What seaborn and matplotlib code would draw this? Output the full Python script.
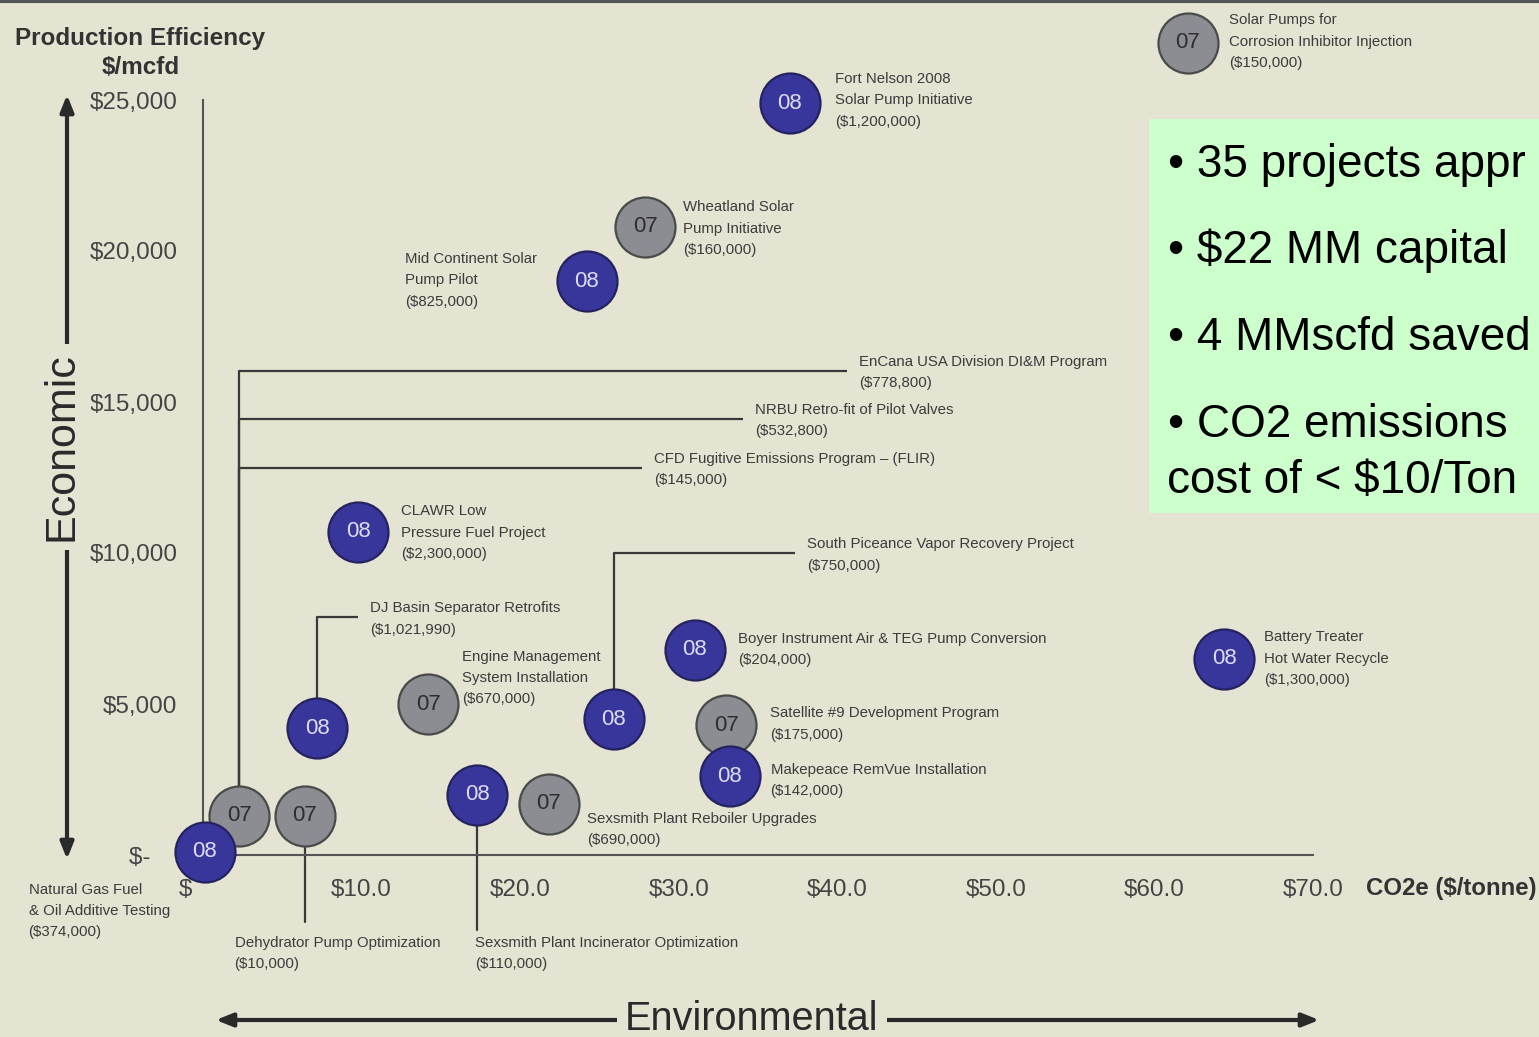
import numpy as np
import pandas as pd
import matplotlib
matplotlib.use("Agg")
import matplotlib.pyplot as plt
import seaborn as sns
from matplotlib.patches import Rectangle, FancyArrowPatch
from matplotlib.lines import Line2D

# ---------------- data ----------------
point_year = ["08", "07", "08", "07", "08", "08", "07", "08", "08",
              "07", "08", "07", "08", "08", "07", "07", "08"]
co2_cost = [37.0, 27.9, 24.2, 62.1, 9.8, 7.2, 14.2, 25.9, 31.0,
            33.0, 33.2, 21.8, 17.3, 64.4, 2.3, 6.4, 0.1]
prod_eff = [24900, 20800, 19000, 26900, 10700, 4200, 5000, 4500, 6800,
            4300, 2600, 1700, 2000, 6500, 1300, 1300, 100]

label_point = [0, 1, 2, 3, 4, 5, 6, 7, 8, 9, 10, 11, 12, 13, 14, 14, 14, 15, 16]
label_name = [
    "Fort Nelson 2008\nSolar Pump Initiative",
    "Wheatland Solar\nPump Initiative",
    "Mid Continent Solar\nPump Pilot",
    "Solar Pumps for\nCorrosion Inhibitor Injection",
    "CLAWR Low\nPressure Fuel Project",
    "DJ Basin Separator Retrofits",
    "Engine Management\nSystem Installation",
    "South Piceance Vapor Recovery Project",
    "Boyer Instrument Air & TEG Pump Conversion",
    "Satellite #9 Development Program",
    "Makepeace RemVue Installation",
    "Sexsmith Plant Reboiler Upgrades",
    "Sexsmith Plant Incinerator Optimization",
    "Battery Treater\nHot Water Recycle",
    "EnCana USA Division DI&M Program",
    "NRBU Retro-fit of Pilot Valves",
    "CFD Fugitive Emissions Program – (FLIR)",
    "Dehydrator Pump Optimization",
    "Natural Gas Fuel\n& Oil Additive Testing",
]
label_capital = [1200000, 160000, 825000, 150000, 2300000, 1021990, 670000,
                 750000, 204000, 175000, 142000, 690000, 110000, 1300000,
                 778800, 532800, 145000, 10000, 374000]

x_ticks = [0, 10, 20, 30, 40, 50, 60, 70]
x_tick_labels = ["$     ", "$10.0", "$20.0", "$30.0", "$40.0", "$50.0", "$60.0", "$70.0"]
y_ticks = [0, 5000, 10000, 15000, 20000, 25000]
y_tick_labels = ["$-    ", "$5,000", "$10,000", "$15,000", "$20,000", "$25,000"]

bullets = ["• 35 projects appr", "• $22 MM capital", "• 4 MMscfd saved",
           "• CO2 emissions", "cost of < $10/Ton"]

# ---------------- layout / style ----------------
W, H = 1539, 1037
BG = "#E5E4D2"
PX_X = 15.86      # pixels per $/tonne
PX_Y = 0.0302     # pixels per $/mcfd
X0_PX, Y0_PX = 203, 855

# label offsets (pixels, right / down) from the circle centre
label_dx = [45, 38, -182, 41, 43, 53, 34, 193, 43, 44, 41, 38, -2, 40, 620, 516, 415, -70, -176]
label_dy = [-3, 2, -1, -1, 1, -109, -26, -164, 0, -1, 4, 26, 159, 0, -443, -395, -346, 138, 59]
leader = [None, None, None, None, None, "elbow", None, "elbow", None, None, None, None,
          ("down", 135), None, "elbow", "elbow", "elbow", ("down", 106), None]

face = {"07": "#8C8D93", "08": "#38369A"}
edge = {"07": "#4A4A4A", "08": "#24235F"}
numc = {"07": "#2E2E2E", "08": "#DCDCF2"}

sns.set_theme(style="white")
plt.rcParams["font.family"] = ["Liberation Sans", "DejaVu Sans"]

fig = plt.figure(figsize=(W / 100, H / 100), dpi=100, facecolor=BG)
ax = fig.add_axes([0, 0, 1, 1])
ax.set_facecolor(BG)
ax.set_xlim(-X0_PX / PX_X, (W - X0_PX) / PX_X)
ax.set_ylim(-(H - Y0_PX) / PX_Y, Y0_PX / PX_Y)

df = pd.DataFrame({"co2": co2_cost, "eff": prod_eff, "year": point_year})

# leader lines
for i, p in enumerate(label_point):
    xc, yc = co2_cost[p], prod_eff[p]
    lx = xc + label_dx[i] / PX_X
    ly = yc - label_dy[i] / PX_Y
    if leader[i] == "elbow":
        yl = ly + 2 / PX_Y
        ax.plot([xc, xc, lx - 12 / PX_X], [yc, yl, yl], color="#3A3A3A", lw=1.6,
                zorder=2, clip_on=False, solid_capstyle="butt")
    elif isinstance(leader[i], tuple):
        ax.plot([xc, xc], [yc, yc - leader[i][1] / PX_Y], color="#3A3A3A", lw=1.6,
                zorder=2, clip_on=False)

# circles
for z, yr in enumerate(["07", "08"]):
    sub = df[df["year"] == yr]
    sns.scatterplot(data=sub, x="co2", y="eff", s=1866, color=face[yr],
                    edgecolor=edge[yr], linewidth=1.6, ax=ax, zorder=4 + z,
                    clip_on=False, legend=False)
for xv, yv, yr in zip(co2_cost, prod_eff, point_year):
    ax.text(xv, yv, yr, ha="center", va="center", fontsize=16, color=numc[yr],
            zorder=7)

# labels
for i, p in enumerate(label_point):
    xc, yc = co2_cost[p], prod_eff[p]
    lx = xc + label_dx[i] / PX_X
    ly = yc - label_dy[i] / PX_Y
    txt = label_name[i] + "\n(${:,})".format(label_capital[i])
    ax.text(lx, ly, txt, ha="left", va="center", fontsize=10.8, color="#3C3C3C",
            linespacing=1.68, zorder=3)

# axes
ax.set_xlabel("")
ax.set_ylabel("")
for s in ["top", "right"]:
    ax.spines[s].set_visible(False)
for s in ["left", "bottom"]:
    ax.spines[s].set_position(("data", 0))
    ax.spines[s].set_color("#555555")
    ax.spines[s].set_linewidth(1.5)
ax.spines["left"].set_bounds(0, 25000)
ax.spines["bottom"].set_bounds(0, 70)
ax.set_xticks(x_ticks)
ax.set_xticklabels(x_tick_labels)
ax.set_yticks(y_ticks)
ax.set_yticklabels(y_tick_labels)
ax.tick_params(axis="both", direction="out", length=4.5, width=1.2, colors="#555555",
               labelsize=17.5, labelcolor="#444444")
ax.tick_params(axis="x", pad=13)
ax.tick_params(axis="y", pad=14)

def fx(px):
    return px / W

def fy(py):
    return 1 - py / H

# axis titles
fig.text(fx(140), fy(38), "Production Efficiency", ha="center", va="center",
         fontsize=17.5, fontweight="bold", color="#333333")
fig.text(fx(141), fy(68), "$/mcfd", ha="center", va="center",
         fontsize=17.5, fontweight="bold", color="#333333")
fig.text(fx(1366), fy(889), "CO2e ($/tonne)", ha="left", va="center",
         fontsize=17.3, fontweight="bold", color="#333333")

# double arrows with titles
arr_style = "<|-|>,head_length=1.0,head_width=0.4"
fig.add_artist(FancyArrowPatch((fx(67), fy(92)), (fx(67), fy(862)),
                               transform=fig.transFigure, arrowstyle=arr_style,
                               mutation_scale=10, lw=3, color="#2A2A2A", zorder=2))
fig.add_artist(FancyArrowPatch((fx(213), fy(1020)), (fx(1322), fy(1020)),
                               transform=fig.transFigure, arrowstyle=arr_style,
                               mutation_scale=10, lw=3, color="#2A2A2A", zorder=2))
fig.text(fx(62), fy(447), "Economic", rotation=90, ha="center", va="center",
         fontsize=31, color="#2A2A2A", zorder=5,
         bbox=dict(boxstyle="square,pad=0.2", fc=BG, ec="none"))
fig.text(fx(752), fy(1019), "Environmental", ha="center", va="center",
         fontsize=28.5, color="#2A2A2A", zorder=5,
         bbox=dict(boxstyle="square,pad=0.2", fc=BG, ec="none"))

# green highlight box
fig.add_artist(Rectangle((fx(1149), fy(513)), (W - 1149) / W, (513 - 119) / H,
                         transform=fig.transFigure, fc="#CCFFCC", ec="none", zorder=1))
bullet_x = [1168, 1168, 1168, 1168, 1167]
bullet_y = [177, 263, 350, 437, 493]
for t, bx, by in zip(bullets, bullet_x, bullet_y):
    fig.text(fx(bx), fy(by), t, ha="left", va="baseline", fontsize=33,
             color="#000000", zorder=3)

# top border
fig.add_artist(Line2D([0, 1], [fy(1), fy(1)], transform=fig.transFigure,
                      color="#555555", lw=3))

fig.savefig("out.png", dpi=100, facecolor=BG)
